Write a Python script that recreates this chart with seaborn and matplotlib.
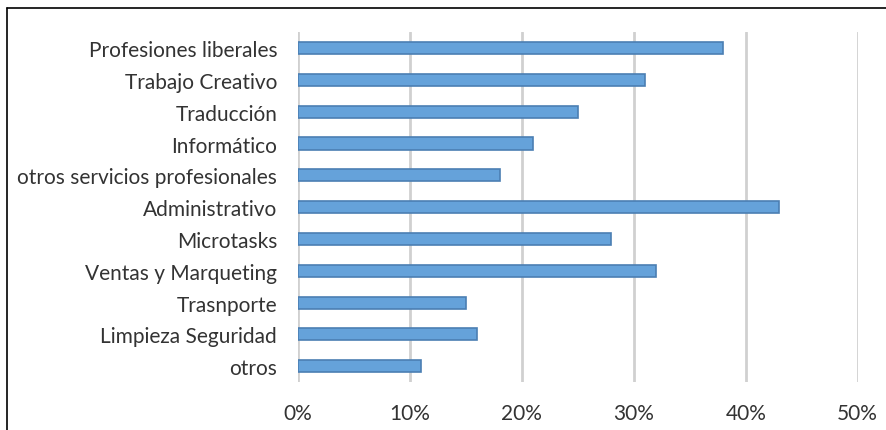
import matplotlib.pyplot as plt
import pandas as pd
import seaborn as sns
from matplotlib.lines import Line2D

categorias = ["Profesiones liberales", "Trabajo Creativo", "Traducción", "Informático",
              "otros servicios profesionales", "Administrativo", "Microtasks",
              "Ventas y Marqueting", "Trasnporte", "Limpieza Seguridad", "otros"]
porcentajes = [38, 31, 25, 21, 18, 43, 28, 32, 15, 16, 11]
ticks = [0, 10, 20, 30, 40, 50]

sns.set_style("white")
plt.rcParams["font.family"] = ["Lato", "DejaVu Sans"]

df = pd.DataFrame({"cat": categorias, "pct": porcentajes})

fig = plt.figure(figsize=(8.87, 4.31), dpi=100)
ax = fig.add_axes([0.336, 0.111, 0.631, 0.812])
sns.barplot(data=df, x="pct", y="cat", orient="h", color="#65a2da", saturation=1,
            width=0.38, edgecolor="#4b7fb3", linewidth=1.2, ax=ax, zorder=3)

ax.set_xlim(0, 50)
ax.set_ylim(10.5, -0.5)
ax.set_xticks(ticks)
ax.set_xticklabels([f"{t}%" for t in ticks])
ax.xaxis.grid(True, color="#d0d0d0", linewidth=2, zorder=0)
ax.set_axisbelow(True)
for s in ax.spines.values():
    s.set_visible(False)
ax.set_xlabel("")
ax.set_ylabel("")
ax.tick_params(axis="both", length=0, labelsize=15, labelcolor="#333333")
ax.tick_params(axis="x", pad=15)
ax.tick_params(axis="y", pad=15)

# borde exterior (arriba e izquierda)
fig.add_artist(Line2D([0.008, 1.0], [0.979, 0.979], color="black", linewidth=1.2, transform=fig.transFigure))
fig.add_artist(Line2D([0.008, 0.008], [0.0, 0.979], color="black", linewidth=1.2, transform=fig.transFigure))

fig.savefig("out.png", dpi=100)
